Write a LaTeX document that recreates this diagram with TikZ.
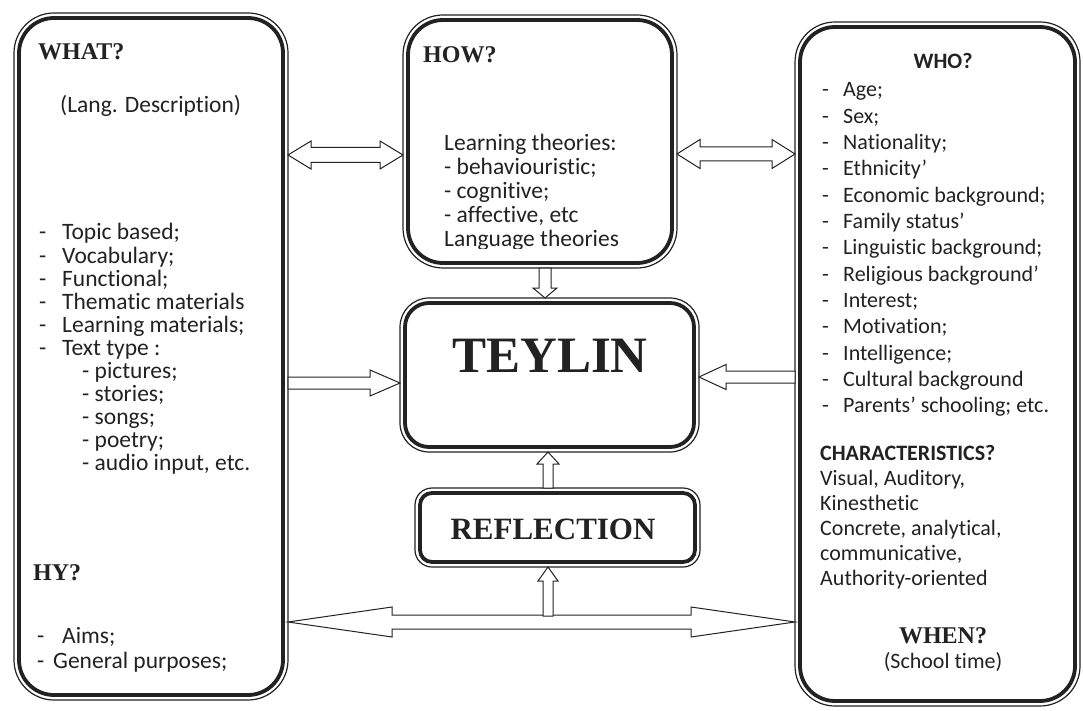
\documentclass[tikz,border=0pt]{standalone}
\usepackage{fontspec}
\setmainfont{Liberation Serif}
\newfontfamily\calfont[Ligatures=NoCommon]{Carlito}
\usetikzlibrary{calc}
\definecolor{ink}{HTML}{222222}
\tikzset{
  box/.style={draw=ink, line width=3.8pt, outer sep=5pt, inner sep=0pt},
  thinline/.style={draw=ink, line width=1.2pt},
  barrow/.style={draw=ink, fill=white, line width=1pt, line join=miter},
  hd/.style={anchor=base west, inner sep=0pt, text=ink, font=\bfseries\fontsize{24}{28}\selectfont},
  cw/.style={anchor=base west, inner sep=0pt, text=ink, font=\calfont\fontsize{23.5}{27}\selectfont},
  cr/.style={anchor=base west, inner sep=0pt, text=ink, font=\calfont\fontsize{22}{26}\selectfont},
  crb/.style={anchor=base west, inner sep=0pt, text=ink, font=\calfont\bfseries\fontsize{22}{26}\selectfont},
}
% block arrows between node anchors: #1 tail, #2 tip, #3 level (image px), #4 head length, #5 head half width, #6 shaft half width
\newcommand\arrLR[6]{\draw[barrow] let \p1=#1, \p2=#2 in (\x1,-#3pt) -- (\x1+#4pt,-#3pt+#5pt) -- (\x1+#4pt,-#3pt+#6pt) -- (\x2-#4pt,-#3pt+#6pt) -- (\x2-#4pt,-#3pt+#5pt) -- (\x2,-#3pt) -- (\x2-#4pt,-#3pt-#5pt) -- (\x2-#4pt,-#3pt-#6pt) -- (\x1+#4pt,-#3pt-#6pt) -- (\x1+#4pt,-#3pt-#5pt) -- cycle;}
\newcommand\arrR[6]{\draw[barrow] let \p1=#1, \p2=#2 in (\x1,-#3pt+#6pt) -- (\x2-#4pt,-#3pt+#6pt) -- (\x2-#4pt,-#3pt+#5pt) -- (\x2,-#3pt) -- (\x2-#4pt,-#3pt-#5pt) -- (\x2-#4pt,-#3pt-#6pt) -- (\x1,-#3pt-#6pt) -- cycle;}
\newcommand\arrL[6]{\draw[barrow] let \p1=#1, \p2=#2 in (\x1,-#3pt+#6pt) -- (\x2+#4pt,-#3pt+#6pt) -- (\x2+#4pt,-#3pt+#5pt) -- (\x2,-#3pt) -- (\x2+#4pt,-#3pt-#5pt) -- (\x2+#4pt,-#3pt-#6pt) -- (\x1,-#3pt-#6pt) -- cycle;}
\newcommand\arrU[6]{\draw[barrow] let \p1=#1, \p2=#2 in (#3pt-#6pt,\y1) -- (#3pt-#6pt,\y2-#4pt) -- (#3pt-#5pt,\y2-#4pt) -- (#3pt,\y2) -- (#3pt+#5pt,\y2-#4pt) -- (#3pt+#6pt,\y2-#4pt) -- (#3pt+#6pt,\y1) -- cycle;}
\newcommand\arrD[6]{\draw[barrow] let \p1=#1, \p2=#2 in (#3pt-#6pt,\y1) -- (#3pt-#6pt,\y2+#4pt) -- (#3pt-#5pt,\y2+#4pt) -- (#3pt,\y2) -- (#3pt+#5pt,\y2+#4pt) -- (#3pt+#6pt,\y2+#4pt) -- (#3pt+#6pt,\y1) -- cycle;}
\begin{document}
\begin{tikzpicture}[x=1pt,y=1pt]
\fill[white] (0,0) rectangle (1083,-711);
\useasboundingbox (0,0) rectangle (1083,-711);
% boxes
\node[box, rounded corners=35pt, minimum width=264pt, minimum height=677pt] (what) at (151,-356.5) {};
\node[box, rounded corners=35pt, minimum width=264pt, minimum height=243pt] (how) at (540,-141.5) {};
\node[box, rounded corners=24pt, minimum width=289pt, minimum height=144pt] (teylin) at (549.5,-375) {};
\node[box, rounded corners=12pt, minimum width=275pt, minimum height=69pt] (refl) at (557.5,-527.5) {};
\node[box, rounded corners=35pt, minimum width=275pt, minimum height=674pt] (who) at (937.5,-364) {};
\foreach \n/\r in {what/40, how/40, teylin/29, refl/17, who/40}
  \draw[thinline, rounded corners=\r pt] (\n.north west) rectangle (\n.south east);
% WHAT column
\node[hd] (whatT) at (38,-60) {WHAT?};
\node[cw] (lang) at (60,-113) {(Lang. Description)};
\foreach \t [count=\i from 0] in {Topic based;, Vocabulary;, Functional;, Thematic materials, Learning materials;, Text type :} {
  \node[cw] (wd\i) at (39,-240-23*\i) {-};
  \node[cw] (wt\i) at (62,-240-23*\i) {\t};
}
\foreach \t [count=\i from 6] in {pictures;, stories;, songs;, poetry;, {audio input, etc.}}
  \node[cw] (ws\i) at (82,-240-23*\i) {- \t};
\node[hd] (hy) at (33,-580) {HY?};
\node[cw] (ad) at (37,-643) {-};
\node[cw] (aims) at (62,-643) {Aims;};
\node[cw] (gd) at (37,-668) {-};
\node[cw] (gen) at (53,-668) {General purposes;};
% HOW column
\node[hd] (howT) at (423,-63) {HOW?};
\foreach \t [count=\i from 0] in {Learning theories:, - behaviouristic;, - cognitive;, {- affective, etc}}
  \node[cw] (hl\i) at (444,-151-24*\i) {\t};
\begin{scope}
  \clip (408,-20) rectangle (672,-248);
  \node[cw] (hl4) at (444,-247) {Language theories};
\end{scope}
% centre
\node[anchor=base, inner sep=0pt, text=ink, font=\bfseries\fontsize{51}{56}\selectfont] (teyT) at (550,-372) {TEYLIN};
\node[anchor=base, inner sep=0pt, text=ink, font=\bfseries\fontsize{31}{35}\selectfont] (reflT) at (553,-539) {REFLECTION};
% WHO column
\node[crb, anchor=base] (whoT) at (943,-69) {WHO?};
\foreach \t [count=\i from 0] in {Age;, Sex;, Nationality;, Ethnicity’, Economic background;, Family status’, Linguistic background;, Religious background’, Interest;, Motivation;, Intelligence;, Cultural background, Parents’ schooling; etc.} {
  \node[cr] (rd\i) at (822,-97-26.3*\i) {-};
  \node[cr] (rt\i) at (843,-97-26.3*\i) {\t};
}
\node[crb] (charT) at (820,-460) {CHARACTERISTICS?};
\foreach \t [count=\i from 0] in {{Visual, Auditory,}, Kinesthetic, {Concrete, analytical,}, {communicative,}, Authority-oriented}
  \node[cr] (ch\i) at (820,-485-25*\i) {\t};
\node[hd, anchor=base] (whenT) at (943,-643) {WHEN?};
\node[cr, anchor=base] (school) at (943,-668) {(School time)};
% arrows
\arrLR{(what.east)}{(how.west)}{155}{23}{14}{7.5}
\arrLR{(how.east)}{(who.west)}{154}{23}{14.5}{7}
\arrD{(how.south)}{(teylin.north)}{545}{10}{12}{6}
\arrR{(what.east)}{(teylin.west)}{383}{30}{13}{6}
\arrL{(who.west)}{(teylin.east)}{377}{27}{12.5}{6}
\arrLR{(what.east)}{(who.west)}{622}{104}{15}{7}
\coordinate (bt) at (548,-616);
\arrU{(bt)}{(refl.south)}{548}{14}{10}{5}
\arrU{(refl.north)}{(teylin.south)}{548}{12}{11}{5}
\end{tikzpicture}
\end{document}
